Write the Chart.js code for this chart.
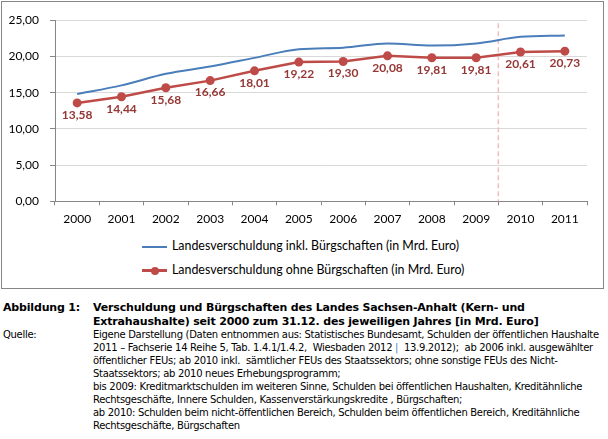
<!DOCTYPE html>
<html>
<head>
<meta charset="utf-8">
<script src="https://cdn.jsdelivr.net/npm/chart.js@4.4.1/dist/chart.umd.min.js"></script>
<style>
  body { margin: 0; background: #fff; width: 608px; height: 439px; position: relative; overflow: hidden; }
  #box { position: absolute; left: 1px; top: 1px; width: 601px; height: 286px; border: 1px solid #868686; }
  #chart { position: absolute; left: 0; top: 0; }
  .leg { position: absolute; left: 140px; font: 12.4px Lato, sans-serif; color: #000; white-space: pre; }
  .leg .ln { position: absolute; left: 0; top: 8px; width: 25px; height: 2px; }
  .leg .dot { position: absolute; left: 9px; top: 5px; width: 8px; height: 8px; border-radius: 50%; background: #be4b48; }
  .leg span { position: absolute; left: 30px; top: 0; }
  .cap { position: absolute; white-space: pre; color: #000; }
  .t { font: bold 11px "DejaVu Sans", sans-serif; }
  .s { font: 10px "DejaVu Sans", sans-serif; }
</style>
</head>
<body>
<div id="box">
  <canvas id="chart" width="601" height="232"></canvas>
  <div class="leg" style="top:236px"><div class="ln" style="background:#4a7ebb"></div><span>Landesverschuldung inkl. Bürgschaften (in Mrd. Euro)</span></div>
  <div class="leg" style="top:260px"><div class="ln" style="background:#be4b48;height:3px;top:7px"></div><div class="dot"></div><span>Landesverschuldung ohne Bürgschaften (in Mrd. Euro)</span></div>
</div>

<div class="cap t" style="left:3px;top:301px">Abbildung 1:</div>
<div class="cap t tl" style="left:93px;top:301px">Verschuldung und Bürgschaften des Landes Sachsen-Anhalt (Kern- und</div>
<div class="cap t tl" style="left:93px;top:315px">Extrahaushalte) seit 2000 zum 31.12. des jeweiligen Jahres [in Mrd. Euro]</div>
<div class="cap s" style="left:3px;top:329px">Quelle:</div>
<div class="cap s sl" style="left:93px;top:329px">Eigene Darstellung (Daten entnommen aus: Statistisches Bundesamt, Schulden der öffentlichen Haushalte</div>
<div class="cap s sl" style="left:93px;top:342px">2011 – Fachserie 14 Reihe 5, Tab. 1.4.1/1.4.2,  Wiesbaden 2012 <b style="color:#4a7ebb;font-weight:normal">|</b>  13.9.2012);  ab 2006 inkl. ausgewählter</div>
<div class="cap s sl" style="left:93px;top:355px">öffentlicher FEUs; ab 2010 inkl.  sämtlicher FEUs des Staatssektors; ohne sonstige FEUs des Nicht-</div>
<div class="cap s sl" style="left:93px;top:368px">Staatssektors; ab 2010 neues Erhebungsprogramm;</div>
<div class="cap s sl" style="left:93px;top:381px">bis 2009: Kreditmarktschulden im weiteren Sinne, Schulden bei öffentlichen Haushalten, Kreditähnliche</div>
<div class="cap s sl" style="left:93px;top:394px">Rechtsgeschäfte, Innere Schulden, Kassenverstärkungskredite , Bürgschaften;</div>
<div class="cap s sl" style="left:93px;top:407px">ab 2010: Schulden beim nicht-öffentlichen Bereich, Schulden beim öffentlichen Bereich, Kreditähnliche</div>
<div class="cap s sl" style="left:93px;top:420px">Rechtsgeschäfte, Bürgschaften</div>

<script>
// Daten (Mrd. Euro)
const years = ['2000', '2001', '2002', '2003', '2004', '2005', '2006', '2007', '2008', '2009', '2010', '2011'];
const inklBuergschaften = [14.8, 16.0, 17.6, 18.6, 19.8, 21.0, 21.2, 21.8, 21.5, 21.8, 22.7, 22.9];
const ohneBuergschaften = [13.58, 14.44, 15.68, 16.66, 18.01, 19.22, 19.30, 20.08, 19.81, 19.81, 20.61, 20.73];
const yTicks = [0, 5, 10, 15, 20, 25];

const fmt = v => v.toFixed(2).replace('.', ',');

// squeeze caption lines so they end where the original ones do
function fitLines(cls, target) {
    const el = document.querySelector(cls);
    const w = el.getBoundingClientRect().width;
    const ls = (target - w) / (el.textContent.length - 1);
    document.querySelectorAll('.' + el.classList[0] + '.' + el.classList[1]).forEach(e => e.style.letterSpacing = ls + 'px');
}

// dashed break line between 2009 and 2010
const breakLine = {
    id: 'breakLine',
    beforeDatasetsDraw(chart) {
        const x = chart.scales.x;
        const px = (x.getPixelForValue(9) + x.getPixelForValue(10)) / 2;
        const ctx = chart.ctx;
        ctx.save();
        ctx.strokeStyle = '#f4bcbc';
        ctx.lineWidth = 1.5;
        ctx.setLineDash([5, 3]);
        ctx.beginPath();
        ctx.moveTo(px, chart.chartArea.top + 3);
        ctx.lineTo(px, chart.chartArea.bottom);
        ctx.stroke();
        ctx.restore();
    }
};

// value labels under the red points
const valueLabels = {
    id: 'valueLabels',
    afterDatasetsDraw(chart) {
        const ctx = chart.ctx;
        const meta = chart.getDatasetMeta(1);
        ctx.save();
        ctx.font = 'bold 12px Lato, sans-serif';
        ctx.fillStyle = '#953735';
        ctx.textAlign = 'center';
        ctx.textBaseline = 'middle';
        meta.data.forEach((pt, i) => {
            ctx.fillText(fmt(ohneBuergschaften[i]), pt.x, pt.y + 12);
        });
        ctx.restore();
    }
};

function draw() {
    const ctx = document.getElementById('chart').getContext('2d');
    new Chart(ctx, {
        type: 'line',
        data: {
            labels: years,
            datasets: [{
                label: 'Landesverschuldung inkl. Bürgschaften (in Mrd. Euro)',
                data: inklBuergschaften,
                borderColor: '#4a7ebb',
                borderWidth: 2,
                pointRadius: 0,
                cubicInterpolationMode: 'monotone'
            }, {
                label: 'Landesverschuldung ohne Bürgschaften (in Mrd. Euro)',
                data: ohneBuergschaften,
                borderColor: '#be4b48',
                backgroundColor: '#be4b48',
                borderWidth: 2.5,
                pointRadius: 4.5,
                pointBorderWidth: 0,
                pointBackgroundColor: '#be4b48'
            }]
        },
        options: {
            responsive: false,
            animation: false,
            layout: { padding: { top: 13, right: 16, bottom: 0, left: 0 } },
            plugins: { legend: { display: false }, tooltip: { enabled: false } },
            scales: {
                x: {
                    offset: true,
                    grid: { offset: true, drawOnChartArea: false, tickLength: 4, tickColor: '#868686' },
                    border: { color: '#868686' },
                    ticks: { color: '#000', font: { family: 'Lato', size: 12 }, padding: 7, maxRotation: 0 },
                    afterFit: s => { s.height = 32.7; }
                },
                y: {
                    min: 0,
                    max: 25,
                    afterBuildTicks: s => { s.ticks = yTicks.map(v => ({ value: v })); },
                    grid: { color: '#d9d9d9', tickLength: 5, tickColor: '#868686' },
                    border: { color: '#868686' },
                    ticks: { color: '#000', font: { family: 'Lato', size: 12 }, padding: 11, callback: v => fmt(v) },
                    afterFit: s => { s.width = 53; }
                }
            }
        },
        plugins: [breakLine, valueLabels]
    });
}

document.fonts.load('12px Lato').then(() => document.fonts.load('bold 12px Lato')).then(() => {
    fitLines('.tl', 432);
    fitLines('.sl', 506);
    draw();
});
</script>
</body>
</html>
